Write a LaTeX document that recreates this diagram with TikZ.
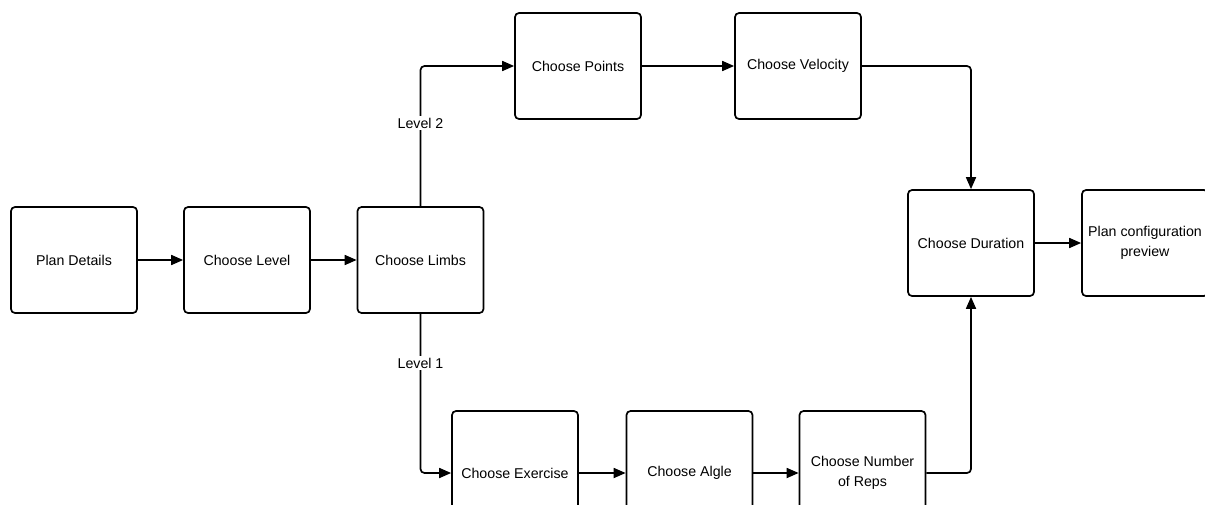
\documentclass[tikz,border=0pt]{standalone}
\usepackage{fontspec}
\setmainfont{Liberation Sans}
\usetikzlibrary{arrows.meta}
\begin{document}
\begin{tikzpicture}[x=1pt,y=-1pt,
  box/.style={draw=black, line width=1.7pt, rounded corners=4pt, minimum width=126pt, minimum height=106pt, align=center, inner sep=0pt, font=\fontsize{14.2}{20.5}\selectfont},
  tallbox/.style={box, minimum height=124pt},
  conn/.style={line width=1.7pt, -{Triangle[length=12pt,width=10pt]}, rounded corners=4pt},
  lbl/.style={fill=white, inner sep=2pt, font=\fontsize{14.2}{16}\selectfont}]
\useasboundingbox (0,0) rectangle (1205,504);
\clip (0,0) rectangle (1205,504);
\node[box] (pd) at (74,260) {Plan Details};
\node[box] (cl) at (247,260) {Choose Level};
\node[box] (lm) at (420.5,260) {Choose Limbs};
\node[box] (pts) at (578,66) {Choose Points};
\node[box] (vel) at (798,66) {Choose Velocity};
\node[box] (dur) at (971,243) {Choose Duration};
\node[box] (prev) at (1145,243) {Plan configuration\\preview};
\node[tallbox] (ex) at (515,473) {Choose Exercise};
\node[tallbox] (al) at (689.5,473) {Choose Algle};
\node[tallbox] (rp) at (862.5,473) {Choose Number\\of Reps};
\draw[conn] (pd) -- (cl);
\draw[conn] (cl) -- (lm);
\draw[conn] (lm.north) |- (pts.west);
\draw[conn] (lm.south) |- (ex.west);
\draw[conn] (pts) -- (vel);
\draw[conn] (vel.east) -| (dur.north);
\draw[conn] (rp.east) -| (dur.south);
\draw[conn] (dur) -- (prev);
\draw[conn] (ex) -- (al);
\draw[conn] (al) -- (rp);
\node[lbl] (l2) at (420.5,123) {Level 2};
\node[lbl] (l1) at (420.5,363) {Level 1};
\end{tikzpicture}
\end{document}
